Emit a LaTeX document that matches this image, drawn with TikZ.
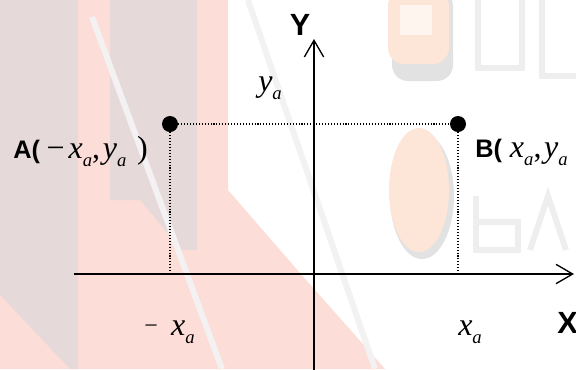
\documentclass[tikz,border=0pt]{standalone}
\usepackage{fontspec}
\setmainfont{Liberation Sans}
\newfontfamily\tnr{Liberation Serif}
\newfontfamily\arl{Liberation Sans}
\usetikzlibrary{arrows.meta}
\definecolor{cMauve}{RGB}{230,217,218}
\definecolor{cPink}{RGB}{253,221,215}
\definecolor{cLogo}{RGB}{253,229,216}
\definecolor{cShade}{RGB}{226,226,226}
\definecolor{cLetter}{RGB}{238,238,238}
\definecolor{cStripe}{RGB}{243,241,241}
% serif text at label size, italic variable with a lowered subscript
\newcommand{\sv}{\tnr\mdseries\fontsize{24}{28}\selectfont}
\newcommand{\vr}[2]{{\sv\itshape #1}\raisebox{-6pt}{\tnr\mdseries\itshape\fontsize{14}{16}\selectfont #2}}
\tikzset{
	axisline/.style={line width=1.5pt, -{Straight Barb[length=12.5pt, width=14.5pt, line width=1pt]}},
	guideline/.style={line width=0.8pt, dash pattern=on 0.8pt off 1.4pt},
	ptdot/.style={circle, fill=black, minimum size=12pt, inner sep=0pt},
	axlbl/.style={font=\arl\fontsize{23}{26}\selectfont\bfseries, inner sep=0pt},
	ptlbl/.style={font=\arl\fontsize{19}{24}\selectfont\bfseries, inner sep=0pt},
	letter/.style={cLetter, line width=4.5pt},
}

\begin{document}
\begin{tikzpicture}[x=0.75pt, y=-0.75pt]
	\useasboundingbox (0,0) rectangle (576,369);
	% watermark background
	\fill[cPink] (0,0) -- (228,0) -- (228,190) -- (300,273) -- (385,369) -- (0,369) -- cycle;
	\fill[cMauve] (0,0) -- (78,0) -- (78,369) -- (70,369) -- (0,295) -- cycle;
	\fill[cMauve] (110,0) -- (197,0) -- (197,250) -- (182,250) -- (140,200) -- (110,200) -- cycle;
	\draw[cStripe, line width=4.5pt] (92,17) -- (222,369);
	\draw[cStripe, line width=4.5pt] (248,0) -- (375,369);
	\fill[cShade, rounded corners=12] (392,-10) rectangle (453,81);
	\fill[cLogo, rounded corners=12] (388,-10) rectangle (449,64);
	\fill[white!60!cLogo] (400,5) rectangle (432,35);
	\fill[cShade] (422,196) ellipse (32 and 63);
	\fill[cLogo] (419,190) ellipse (30 and 62);
	\draw[letter] (478,0) -- (478,68) -- (522,68) -- (522,0);
	\draw[letter] (542,0) -- (542,76) -- (576,76);
	\draw[letter] (476,196) -- (476,250) -- (518,250) -- (518,222) -- (476,222);
	\draw[letter] (530,250) -- (548,196) -- (566,250);
	% axes
	\coordinate (xl) at (74,274);
	\coordinate (xr) at (574,274);
	\coordinate (yb) at (314,372);
	\coordinate (yt) at (314,39);
	\draw[axisline] (xl) -- (xr);
	\draw[axisline] (yb) -- (yt);
	\node[axlbl, anchor=base] (ylab) at (300,35) {Y};
	\node[axlbl, anchor=base west] (xlab) at (557,333) {X};
	% points and guides
	\node[ptdot] (A) at (170,124) {};
	\node[ptdot] (B) at (458,124) {};
	\coordinate (Ax) at (170,274);
	\coordinate (Bx) at (458,274);
	\draw[guideline] (A) -- (B);
	\draw[guideline] (A) -- (Ax);
	\draw[guideline] (B) -- (Bx);
	\node[ptlbl, anchor=base west] (Alab) at (13,158) {A(\hspace{5pt}{\sv −}\hspace{3pt}\vr{x}{a}{\sv,}\hspace{2pt}\vr{y}{a}\hspace{8pt}{\sv)}};
	\node[ptlbl, anchor=base west] (Blab) at (475,157) {B(\hspace{6pt}\vr{x}{a}{\sv,}\hspace{2pt}\vr{y}{a}\hspace{8pt}{\sv)}};
	\node[ptlbl, anchor=base west] (ya) at (258,91) {\vr{y}{a}};
	\node[ptlbl, anchor=base west] (mxa) at (144,335) {\raisebox{1pt}{\tnr\mdseries\fontsize{18}{20}\selectfont −}\hspace{10pt}\vr{x}{a}};
	\node[ptlbl, anchor=base west] (xa) at (458,335) {\vr{x}{a}};
\end{tikzpicture}
\end{document}
